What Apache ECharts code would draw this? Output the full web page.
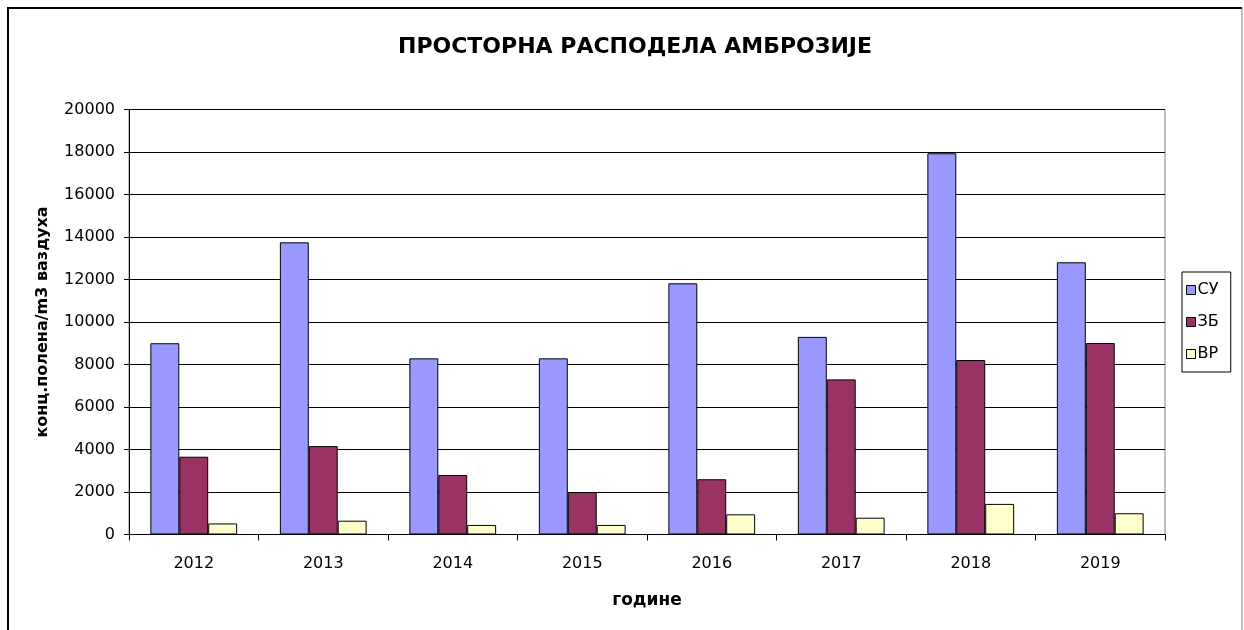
<!DOCTYPE html>
<html>
<head>
<meta charset="utf-8">
<script src="https://cdn.jsdelivr.net/npm/echarts@6/dist/echarts.min.js"></script>
<style>
html, body { margin: 0; padding: 0; background: #fff; }
#chart { width: 1244px; height: 630px; }
</style>
</head>
<body>
<div id="chart"></div>
<script>
// Ragweed pollen concentration per year at three stations
const years = ['2012', '2013', '2014', '2015', '2016', '2017', '2018', '2019'];
const seriesNames = ['СУ', 'ЗБ', 'ВР'];
const valuesSU = [9000, 13750, 8290, 8290, 11820, 9300, 17940, 12810];
const valuesZB = [3660, 4160, 2800, 2000, 2600, 7300, 8210, 9010];
const valuesVR = [520, 650, 450, 450, 950, 790, 1440, 1000];
const colors = ['#9999FF', '#993366', '#FFFFCC'];

const font = 'DejaVu Sans, Verdana, sans-serif';
const chart = echarts.init(document.getElementById('chart'));

function barSeries(name, data, color) {
  return {
    name: name,
    type: 'bar',
    data: data,
    barGap: '0%',
    barCategoryGap: '33%',
    itemStyle: { color: color, borderColor: '#000', borderWidth: 1 },
    emphasis: { disabled: true }
  };
}

chart.setOption({
  animation: false,
  backgroundColor: '#fff',
  title: {
    text: 'ПРОСТОРНА РАСПОДЕЛА АМБРОЗИЈЕ',
    left: 630, top: 31, textAlign: 'center',
    textStyle: { fontFamily: font, fontSize: 22, fontWeight: 'bold', color: '#000' }
  },
  legend: {
    orient: 'vertical',
    left: 1182, top: 272,
    width: 58,
    padding: [10, 12, 10, 4],
    itemGap: 16,
    itemWidth: 9, itemHeight: 9,
    icon: 'rect',
    borderColor: '#000', borderWidth: 1,
    textStyle: { fontFamily: font, fontSize: 16, color: '#000', padding: [0, 0, 0, -3] },
    data: seriesNames.map((n, i) => ({ name: n, itemStyle: { color: colors[i], borderColor: '#000', borderWidth: 1 } }))
  },
  grid: { left: 129, right: 79, top: 109.5, bottom: 95.5, show: true, borderColor: '#808080', borderWidth: 1 },
  xAxis: {
    type: 'category',
    data: years,
    name: 'године',
    nameLocation: 'middle',
    nameGap: 58,
    nameTextStyle: { fontFamily: font, fontSize: 17, fontWeight: 'bold', color: '#000' },
    axisLine: { lineStyle: { color: '#000', width: 1 } },
    axisTick: { show: true, alignWithLabel: false, length: 6, lineStyle: { color: '#000' } },
    axisLabel: { fontFamily: font, fontSize: 16, color: '#000', margin: 21 },
    splitLine: { show: false }
  },
  yAxis: {
    type: 'value',
    min: 0, max: 20000, interval: 2000,
    name: 'конц.полена/m3 ваздуха',
    nameLocation: 'middle',
    nameGap: 78,
    nameRotate: 90,
    nameTextStyle: { fontFamily: font, fontSize: 16, fontWeight: 'bold', color: '#000' },
    axisLine: { show: true, lineStyle: { color: '#000', width: 1 } },
    axisTick: { show: true, length: 5, lineStyle: { color: '#000' } },
    axisLabel: { fontFamily: font, fontSize: 16, color: '#000', margin: 14, formatter: v => String(v) },
    splitLine: { show: true, lineStyle: { color: '#000', width: 1 } }
  },
  series: [
    barSeries(seriesNames[0], valuesSU, colors[0]),
    barSeries(seriesNames[1], valuesZB, colors[1]),
    barSeries(seriesNames[2], valuesVR, colors[2])
  ],
  graphic: [
    // outer chart frame
    { type: 'line', shape: { x1: 7, y1: 8, x2: 1242, y2: 8 }, style: { stroke: '#000', lineWidth: 2 }, silent: true },
    { type: 'line', shape: { x1: 8, y1: 7, x2: 8, y2: 630 }, style: { stroke: '#000', lineWidth: 2 }, silent: true },
    { type: 'line', shape: { x1: 1242, y1: 8, x2: 1242, y2: 630 }, style: { stroke: '#808080', lineWidth: 1 }, silent: true }
  ]
});
</script>
</body>
</html>
